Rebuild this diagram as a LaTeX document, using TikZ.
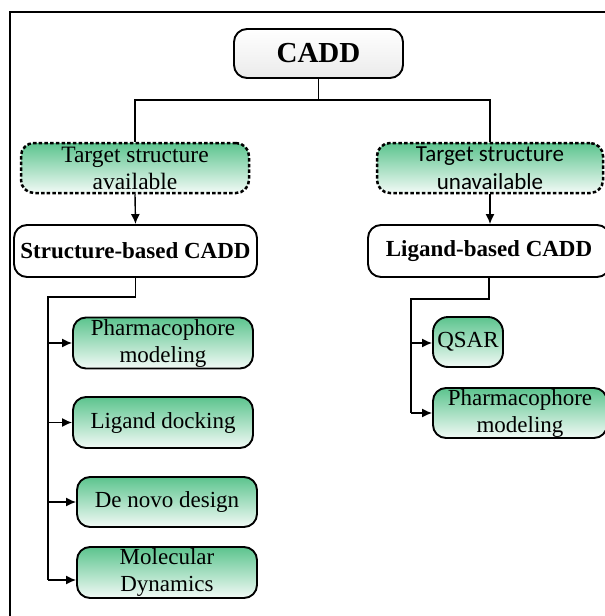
\documentclass[tikz,border=0pt]{standalone}
\usepackage{fontspec}
\setmainfont{Liberation Serif}
\newfontfamily\calibrilike{Carlito}
\usetikzlibrary{arrows.meta,shadings}

\definecolor{leafgreen}{RGB}{92,196,142}
\definecolor{leafpale}{RGB}{242,250,246}

\tikzset{
  basebox/.style={rectangle, rounded corners=13pt, line width=1.9pt, draw=black,
                  align=center, inner sep=1pt, font=\fontsize{23}{27}\selectfont},
  plainbox/.style={basebox, fill=white, font=\fontsize{23}{27}\selectfont\bfseries},
  leafbox/.style={basebox, top color=leafgreen, bottom color=leafpale},
  condbox/.style={leafbox, dash pattern=on 3.5pt off 2.2pt, line width=2.5pt},
  link/.style={line width=1.4pt, draw=black},
  arrowlink/.style={link, -{Latex[length=10pt,width=9pt]}},
}

\begin{document}
\begin{tikzpicture}[x=1pt,y=-1pt]
  \useasboundingbox (0,0) rectangle (605,616);

  % outer frame (top and left edges)
  \draw[line width=1.4pt] (10,616) -- (10,12) -- (606,12);

  % root
  \node[basebox, top color=white, bottom color=black!8, minimum width=169pt, minimum height=49pt,
        font=\fontsize{29}{32}\selectfont\bfseries] (cadd) at (318.5,53.5) {CADD};

  % conditions
  \node[condbox, minimum width=228pt, minimum height=50pt, font=\fontsize{23.5}{27}\selectfont] (tsa) at (135,168)
       {Target structure\\available};
  \node[condbox, minimum width=226pt, minimum height=50pt, font=\calibrilike\fontsize{23}{28}\selectfont] (tsu) at (490,168)
       {Target structure\\unavailable};

  % approaches
  \node[plainbox, minimum width=243pt, minimum height=52pt] (sb) at (135.5,251) {Structure-based CADD};
  \node[plainbox, minimum width=242pt, minimum height=52pt] (lb) at (489,251) {Ligand-based CADD};

  % structure-based methods
  \node[leafbox, minimum width=180pt, minimum height=51pt] (pm1) at (163,343) {Pharmacophore\\modeling};
  \node[leafbox, minimum width=180pt, minimum height=51pt] (ld)  at (163,422.5) {Ligand docking};
  \node[leafbox, minimum width=180pt, minimum height=50pt] (dn)  at (167,502) {De novo design};
  \node[leafbox, minimum width=180pt, minimum height=51pt] (md)  at (167,572.5) {Molecular\\Dynamics};

  % ligand-based methods
  \node[leafbox, minimum width=70pt, minimum height=50pt, rounded corners=15pt] (qsar) at (468,342) {QSAR};
  \node[leafbox, minimum width=174pt, minimum height=50pt] (pm2) at (520,413) {Pharmacophore\\modeling};

  % root split
  \coordinate (hub) at (318.5,100);
  \draw[link] (cadd.south) -- (hub);
  \draw[link] (tsa.north) |- (hub) -| (tsu.north);

  % condition to approach
  \draw[arrowlink] (tsa.south) -- (sb.north);
  \draw[arrowlink] (tsu.south) -- (tsu.south |- lb.north);

  % structure-based bracket
  \coordinate (sbk) at (48,297);
  \draw[link] (sb.south) |- (sbk) -- (sbk |- 0,580);
  \draw[arrowlink] (sbk |- pm1.west) -- (pm1.west);
  \draw[arrowlink] (sbk |- ld.west) -- (ld.west);
  \draw[arrowlink] (sbk |- dn.west) -- (dn.west);
  \draw[arrowlink] (sbk |- 0,580) -- (md.west |- 0,580);

  % ligand-based bracket
  \coordinate (lbk) at (411,299);
  \draw[link] (lb.south) |- (lbk) -- (lbk |- pm2.west);
  \draw[arrowlink] (lbk |- 0,343) -- (qsar.west |- 0,343);
  \draw[arrowlink] (lbk |- pm2.west) -- (pm2.west);
\end{tikzpicture}
\end{document}
